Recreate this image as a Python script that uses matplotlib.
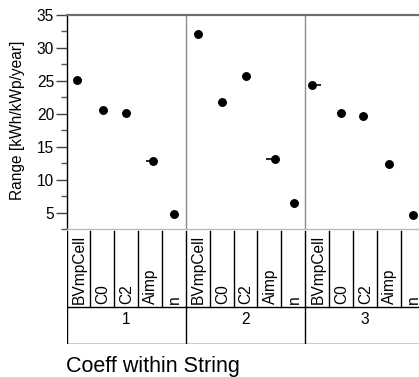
import matplotlib
matplotlib.use("Agg")
import matplotlib.pyplot as plt
import numpy as np

plt.rcParams['font.family'] = ['Liberation Sans', 'DejaVu Sans']

groups = ["1", "2", "3"]
coeffs = ["BVmpCell", "C0", "C2", "Aimp", "n"]
values = {
    "1": [25.1, 20.6, 20.1, 12.9, 4.8],
    "2": [32.1, 21.8, 25.7, 13.1, 6.4],
    "3": [24.3, 20.1, 19.6, 12.3, 4.6],
}
jitter = {
    "1": [-0.08, 0.02, -0.01, 0.11, 0.0],
    "2": [0.0, 0.0, 0.0, 0.23, 0.05],
    "3": [-0.21, 0.0, -0.07, 0.0, 0.0],
}
yticks = [5, 10, 15, 20, 25, 30, 35]

W, H = 419, 377
fig = plt.figure(figsize=(W / 100, H / 100), dpi=100)

def fx(px):
    return px / W

def fy(py):
    return 1 - py / H

left, right, top, bottom, tbl_bottom = 66.5, 424.5, 15, 229, 344
ax = fig.add_axes([fx(left), fy(bottom), fx(right - left), fy(top) - fy(bottom)])
ncol = len(groups) * len(coeffs)
ax.set_xlim(-0.5, ncol - 0.5)
ax.set_ylim(2.5, 35)

for gi, g in enumerate(groups):
    for ci, c in enumerate(coeffs):
        xc = gi * len(coeffs) + ci
        v = values[g][ci]
        ax.plot([xc - 0.15, xc + 0.15], [v, v], color='black', lw=1.2, solid_capstyle='butt', zorder=2)
        ax.plot([xc + jitter[g][ci]], [v], 'o', color='black', ms=5.4, zorder=3)

for gi in range(1, len(groups)):
    ax.axvline(gi * len(coeffs) - 0.5, color='#8c8c8c', lw=1.0, zorder=1)

ax.set_yticks(yticks)
ax.set_yticks(np.arange(2.5, 35.1, 2.5), minor=True)
ax.tick_params(axis='y', which='major', length=8, width=1, color='#444444', labelsize=11.2, pad=1)
ax.tick_params(axis='y', which='minor', length=4, width=1, color='#555555')
ax.set_xticks([])
ax.spines['left'].set_color('black')
ax.spines['left'].set_linewidth(1.0)
ax.spines['top'].set_color('#6e6e6e')
ax.spines['top'].set_linewidth(1.6)
ax.spines['bottom'].set_color('#bbbbbb')
ax.spines['bottom'].set_linewidth(1.0)
ax.spines['right'].set_visible(False)

fig.text(fx(17.5), fy(120), "Range [kWh/kWp/year]", rotation=90, ha='center', va='center', fontsize=11.2)

# label table
ax2 = fig.add_axes([fx(left), fy(tbl_bottom), fx(right - left), fy(bottom) - fy(tbl_bottom)])
ax2.set_xlim(-0.5, ncol - 0.5)
ax2.set_ylim(0, 1)
ax2.axis('off')
row_div = (tbl_bottom - 307) / (tbl_bottom - bottom)
top_y = (tbl_bottom - 231) / (tbl_bottom - bottom)
for k in range(ncol):
    ax2.plot([k - 0.5, k - 0.5], [row_div, top_y], color='black', lw=1.0)
for gi in range(len(groups) + 1):
    ax2.plot([gi * len(coeffs) - 0.5] * 2, [0, row_div], color='black', lw=1.0)
ax2.plot([-0.5, ncol], [row_div, row_div], color='black', lw=1.0)
ax2.plot([-0.5, ncol], [0, 0], color='black', lw=1.0)
for gi, g in enumerate(groups):
    for ci, c in enumerate(coeffs):
        xc = gi * len(coeffs) + ci
        ax2.text(xc + 0.03, row_div + 3 / 115, c, rotation=90, ha='center', va='bottom', fontsize=11.2)
    ax2.text(gi * len(coeffs) + 2, (tbl_bottom - 319) / 115, g, ha='center', va='center', fontsize=11.2)

fig.text(fx(66.5), fy(371.7), "Coeff within String", ha='left', va='baseline', fontsize=15.5)

fig.savefig("out.png", dpi=100)
